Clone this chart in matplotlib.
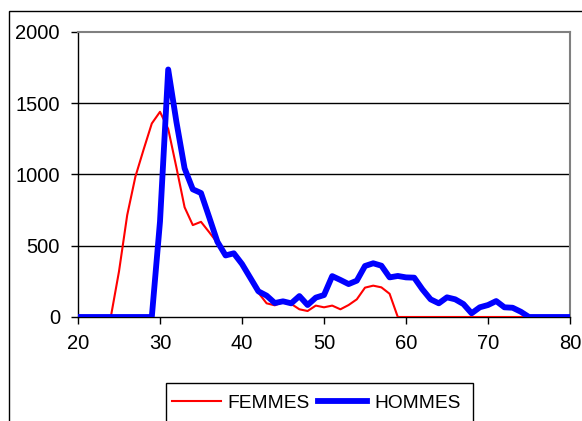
import matplotlib
matplotlib.use("Agg")
import matplotlib.pyplot as plt
from matplotlib.patches import Rectangle

plt.rcParams['font.family'] = ['Liberation Sans', 'DejaVu Sans']

ages = list(range(20, 81))

femmes = [0, 0, 0, 0, 0, 320, 715, 985, 1175, 1358,
          1440, 1320, 1050, 770, 645, 668, 595, 520, 435, 447,
          377, 280, 170, 96, 82, 105, 92, 54, 42, 80,
          68, 80, 54, 84, 124, 206, 220, 208, 163, 0,
          0, 0, 0, 0, 0, 0, 0, 0, 0, 0,
          0, 0, 0, 0, 0, 0, 0, 0, 0, 0, 0]

hommes = [0, 0, 0, 0, 0, 0, 0, 0, 0, 0,
          670, 1737, 1370, 1043, 896, 870, 700, 528, 432, 447,
          372, 276, 180, 150, 98, 110, 96, 147, 84, 136,
          154, 287, 260, 231, 255, 358, 377, 360, 278, 288,
          278, 276, 194, 124, 96, 138, 124, 91, 26, 68,
          84, 112, 68, 65, 37, 0, 0, 0, 0, 0, 0]

x_ticks = [20, 30, 40, 50, 60, 70, 80]
y_ticks = [0, 500, 1000, 1500, 2000]

W, H = 582, 421
fig = plt.figure(figsize=(W / 100, H / 100), dpi=100)

# outer chart frame
fig.patches.append(Rectangle((9 / W, -0.2), 1.2, 1.2 - 11 / H,
                             transform=fig.transFigure, fill=False,
                             edgecolor='black', linewidth=1.0))

# legend box (open at the bottom edge of the figure)
fig.patches.append(Rectangle((166 / W, -0.1), (473 - 166) / W, 0.1 + 1 - 383 / H,
                             transform=fig.transFigure, fill=False,
                             edgecolor='black', linewidth=1.0))

ax = fig.add_axes([78 / W, 1 - 317 / H, (570 - 78) / W, (317 - 32) / H])

ax.plot(ages, femmes, color='#ff0000', linewidth=1.5, label='FEMMES',
        solid_joinstyle='round', zorder=3)
ax.plot(ages, hommes, color='#0000ff', linewidth=4.2, label='HOMMES',
        solid_joinstyle='round', zorder=4)

ax.set_xlim(20, 80)
ax.set_ylim(0, 2000)
ax.set_xticks(x_ticks)
ax.set_yticks(y_ticks)
ax.set_xticklabels([str(v) for v in x_ticks])
ax.set_yticklabels([str(v) for v in y_ticks])

for v in y_ticks[1:-1]:
    ax.axhline(v, color='black', linewidth=1.0, zorder=1)

for side in ('left', 'bottom'):
    ax.spines[side].set_color('black')
    ax.spines[side].set_linewidth(1.0)
for side in ('top', 'right'):
    ax.spines[side].set_color('#808080')
    ax.spines[side].set_linewidth(1.5)

ax.tick_params(axis='both', direction='out', length=5, width=1,
               color='black', labelsize=14.5, labelcolor='black')
ax.tick_params(axis='y', pad=8)
ax.tick_params(axis='x', pad=7)

leg = fig.legend(loc='center left', bbox_to_anchor=(172 / W, 1 - 403 / H),
                 bbox_transform=fig.transFigure, ncol=2, frameon=False,
                 fontsize=13.8, handlelength=2.55,
                 handletextpad=0.35, columnspacing=0.45, borderpad=0.0,
                 borderaxespad=0.0)

fig.savefig('out.png', dpi=100)
